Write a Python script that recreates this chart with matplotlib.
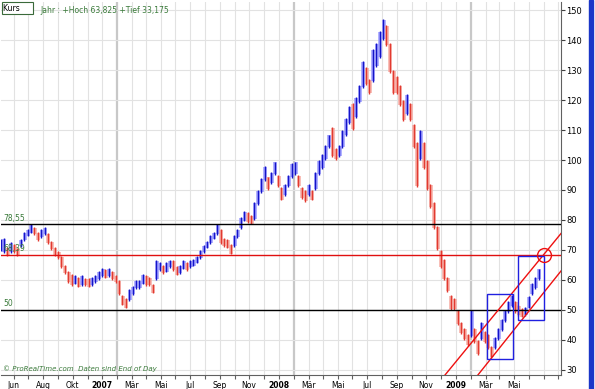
import numpy as np
import pandas as pd
import matplotlib
matplotlib.use("Agg")
import matplotlib.pyplot as plt
import matplotlib.dates as mdates
from matplotlib.patches import Rectangle
from matplotlib.transforms import blended_transform_factory

# ------------------------------------------------------------
# weekly price ranges (May 2006 - May 2009)
# ------------------------------------------------------------
week_start = "2006-05-05"
lows = [69.5, 69, 68, 69, 69, 68, 71, 73, 74.5, 75.5,
        75, 73, 74, 75, 72, 70, 68, 67, 64, 62,
        59, 58, 58.5, 57.5, 58, 58, 57.5, 58, 59, 60,
        61, 60.5, 61, 60, 59, 55, 51.5, 50.5, 53, 55,
        57, 57, 58.5, 58, 58, 55.5, 60, 63, 62, 62.5,
        64, 63, 61.5, 62, 63.5, 63, 64, 64.5, 65.5, 67,
        69, 70.5, 72, 73.5, 75, 72, 71, 70.5, 68.5, 71,
        74, 77, 79.5, 79, 78.5, 80, 85, 89, 93, 90,
        92, 95, 91, 86.5, 88, 91, 94, 95, 91, 87,
        86, 88, 86.5, 90, 95, 97, 100, 104, 101, 100,
        101, 104, 108, 112, 110, 114, 119, 124, 125, 122,
        126, 131, 134, 140, 138, 129, 122, 122, 118, 113,
        115, 113, 104, 91, 100, 97, 90, 84, 77, 70,
        64, 60, 56, 50, 50, 45, 42, 40, 38, 41,
        39, 35, 40, 39, 37, 34, 37, 40, 43, 46,
        49, 51, 49, 48, 47.5, 48, 50.5, 55, 57, 60]
highs = [73.5, 74, 71, 72.5, 72, 70.5, 73.5, 76, 77, 78.5,
         77.5, 76, 77, 77.7, 75.5, 73, 71, 69.5, 68, 65,
         63, 62, 61.5, 61, 61.5, 60.5, 60.5, 61, 61.5, 63,
         64, 63.5, 64, 63, 61.5, 60, 55, 54, 57, 58,
         60, 60, 62, 61.5, 61, 58.5, 66.5, 66, 65, 66,
         66.5, 66.5, 64.5, 65, 66.5, 66, 66.5, 67, 68, 70,
         71.5, 73, 75, 76, 78.5, 77, 74, 73.5, 72, 75,
         77, 81, 83, 82.5, 81.5, 86, 90, 94, 98, 94.5,
         96, 99.5, 95, 91, 92, 95, 99, 99.5, 95, 91,
         90, 92, 90, 96, 100, 102, 105, 108.5, 111, 104,
         105, 110, 114, 118, 119, 121, 125, 133, 131, 127,
         137, 139, 143, 147, 145, 139, 130, 128, 125, 120,
         122, 119, 112, 106, 110, 106, 100, 92, 86, 78,
         70, 67, 61, 55, 54, 50, 46, 44, 42, 50,
         44, 40, 46, 43, 42, 38, 41, 44, 47, 50,
         53, 55, 53, 51.5, 50.5, 51, 54.5, 59, 61, 63.8]

# horizontal levels
level_values = [78.55, 68.39, 50]
level_labels = ["78,55", "68,39", "50"]
level_colors = ["black", "#e01010", "black"]

# trend channel (two parallel lines)
upper_dates = ["2008-11-09", "2009-07-07"]
upper_vals = [28.3, 75.5]
lower_dates = ["2009-01-16", "2009-07-07"]
lower_vals = [28.3, 63.0]

# boxes: (start, end, low, high)
box_start = ["2009-02-04", "2009-04-10"]
box_end = ["2009-03-30", "2009-06-02"]
box_low = [33.6, 46.7]
box_high = [55.2, 68.0]

circle_date = "2009-06-01"
circle_val = 68.2

month_labels = ["Jun", "Aug", "Okt", "2007", "Mär", "Mai", "Jul", "Sep", "Nov",
                "2008", "Mär", "Mai", "Jul", "Sep", "Nov", "2009", "Mär", "Mai"]
label_months = pd.date_range("2006-06-01", "2009-05-01", freq="2MS")

dates = pd.date_range(week_start, periods=len(lows), freq="7D")
lows = np.array(lows)
highs = np.array(highs)
mids = (lows + highs) / 2

# ------------------------------------------------------------
W, H = 595, 389
fig = plt.figure(figsize=(W / 100, H / 100), dpi=100)
ax = fig.add_axes([1 / W, 14 / H, 560 / W, 373 / H])

ax.set_xlim(pd.Timestamp("2006-05-06"), pd.Timestamp("2009-07-07"))
ax.set_ylim(28.33, 152.67)

# grid
for m in pd.date_range("2006-06-01", "2009-07-01", freq="MS"):
    if m.month == 1:
        ax.axvline(m, color="#c8c8c8", lw=1.6, zorder=0)
    else:
        ax.axvline(m, color="#e2e2e2", lw=0.8, zorder=0)
for v in range(30, 151, 10):
    ax.axhline(v, color="#e2e2e2", lw=0.8, zorder=0)

# price bars: light halo + dark bar
up = np.r_[True, mids[1:] >= mids[:-1]]
dark = np.where(up, "#1414c8", "#e23a30")
light = np.where(up, "#a0a0ff", "#f7b0a8")
ax.vlines(dates + pd.Timedelta(days=1), lows + 0.3, highs - 0.3, colors=light, lw=2.6, zorder=2)
ax.vlines(dates, lows, highs, colors=dark, lw=1.0, zorder=3)

# levels
tr = blended_transform_factory(ax.transAxes, ax.transData)
for v, lab, c in zip(level_values, level_labels, level_colors):
    ax.axhline(v, color=c, lw=1.0, zorder=4)
    ax.text(0.004, v + 0.6, lab, transform=tr, fontsize=5.5, color="#3a7a3a",
            va="bottom", ha="left", zorder=5)

# channel
ax.plot(pd.to_datetime(upper_dates), upper_vals, color="#ee1010", lw=1.0, zorder=4)
ax.plot(pd.to_datetime(lower_dates), lower_vals, color="#ee1010", lw=1.0, zorder=4)

# boxes
for s, e, lo, hi in zip(box_start, box_end, box_low, box_high):
    s, e = mdates.date2num(pd.Timestamp(s)), mdates.date2num(pd.Timestamp(e))
    ax.add_patch(Rectangle((s, lo), e - s, hi - lo, fill=False, ec="#2020e0", lw=1.0, zorder=4))

ax.plot([pd.Timestamp(circle_date)], [circle_val], "o", ms=10, mfc="none",
        mec="#ee1010", mew=1.0, zorder=5)

# axes styling
ax.yaxis.tick_right()
ax.set_yticks(range(30, 151, 10))
ax.tick_params(axis="y", direction="out", length=3, width=0.8, color="#404040",
               labelsize=6, pad=1)
ax.set_xticks(label_months)
ax.set_xticklabels(month_labels)
for t in ax.get_xticklabels():
    if t.get_text().isdigit():
        t.set_fontweight("bold")
        t.set_fontsize(7)
ax.set_xticks(pd.date_range("2006-06-01", "2009-07-01", freq="MS"), minor=True)
ax.tick_params(axis="x", which="both", direction="out", length=3, width=0.8,
               color="#606060", labelsize=5.5, pad=1.5)
for sp in ["top", "left"]:
    ax.spines[sp].set_visible(False)
ax.spines["right"].set_color("#606060")
ax.spines["bottom"].set_color("#606060")

# header texts
ax.text(0.004, 0.995, "Kurs     ", transform=ax.transAxes, fontsize=5.5, va="top",
        ha="left", bbox=dict(boxstyle="square,pad=0.2", fc="white", ec="#3a6a3a", lw=0.8))
ax.text(0.07, 0.99, "Jahr : +Hoch 63,825 +Tief 33,175", transform=ax.transAxes,
        fontsize=5.5, color="#3a7a3a", va="top", ha="left")
ax.text(0.004, 0.008, "© ProRealTime.com  Daten sind End of Day", transform=ax.transAxes,
        fontsize=5, color="#3a7a3a", style="italic", va="bottom", ha="left")

# right window border
fig.patches.append(Rectangle((589 / W, 0), 4 / W, 1, transform=fig.transFigure,
                             color="#1a36c8", zorder=10))

fig.savefig("out.png", dpi=100)
